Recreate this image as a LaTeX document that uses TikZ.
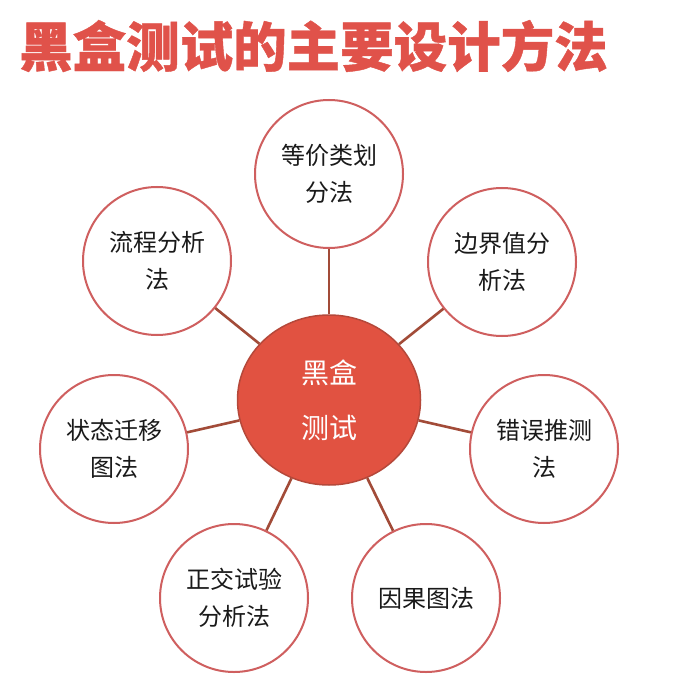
\documentclass[tikz,border=0pt]{standalone}
\usepackage{fontspec}
\setmainfont{Noto Sans CJK SC}
\newfontfamily\cjk{Noto Sans CJK SC}
\newfontfamily\cjkheavy[BoldFeatures={FakeBold=0.8}]{Noto Sans CJK SC}
\usetikzlibrary{shapes.geometric}
\definecolor{titlered}{HTML}{E0524A}
\definecolor{hubfill}{HTML}{E15241}
\definecolor{hubline}{HTML}{B5483A}
\definecolor{ringline}{HTML}{CF5F5F}
\definecolor{connline}{HTML}{A24B38}
\definecolor{txt}{HTML}{1A1A1A}
\tikzset{
  hub/.style={ellipse, fill=hubfill, draw=hubline, line width=1.5pt,
    minimum width=183pt, minimum height=170pt, inner sep=0pt,
    text=white, align=center, font=\cjk\fontsize{28}{55}\selectfont},
  ring/.style={circle, fill=white, draw=ringline, line width=2pt,
    minimum size=148pt, inner sep=0pt, text=txt, align=center,
    font=\cjk\fontsize{24}{37}\selectfont},
  conn/.style={draw=connline, line width=2.6pt},
  titletext/.style={anchor=west, text=titlered, inner sep=0pt,
    font=\cjkheavy\bfseries\fontsize{53.5}{60}\selectfont}
}
\begin{document}
\begin{tikzpicture}[x=1pt,y=-1pt]
\useasboundingbox[fill=white] (0,0) rectangle (674,684);
\node[titletext] (title) at (19,46) {黑盒测试的主要设计方法};
\node[hub] (c) at (329,400) {黑盒\\测试};
\node[ring] (n1) at (329,174) {等价类划\\分法};
\node[ring] (n2) at (502,262) {边界值分\\析法};
\node[ring] (n3) at (544,449) {错误推测\\法};
\node[ring] (n4) at (426,598) {因果图法};
\node[ring] (n5) at (234,598) {正交试验\\分析法};
\node[ring] (n6) at (114,449) {状态迁移\\图法};
\node[ring] (n7) at (157,261) {流程分析\\法};
\foreach \n in {n1,n2,n3,n4,n5,n6,n7} {\draw[conn] (c) -- (\n);}
\end{tikzpicture}
\end{document}
